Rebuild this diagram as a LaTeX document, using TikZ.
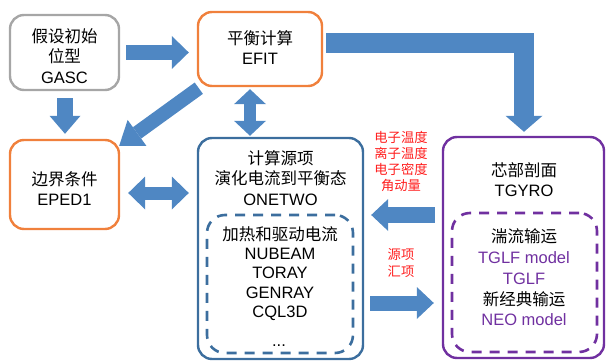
\documentclass[tikz,border=0pt]{standalone}
\usepackage{fontspec}
\setmainfont{Liberation Sans}
\newfontfamily\cjk{Noto Sans CJK SC}
\usetikzlibrary{arrows.meta,calc}
\definecolor{arrowblue}{RGB}{79,135,195}
\definecolor{boxgray}{RGB}{166,166,166}
\definecolor{boxorange}{RGB}{240,128,60}
\definecolor{boxblue}{RGB}{60,110,158}
\definecolor{boxpurple}{RGB}{112,48,160}
\definecolor{txtred}{RGB}{255,30,30}
\tikzset{
  box/.style={draw, line width=2.4pt, rounded corners=14pt, inner sep=0pt},
  dbox/.style={draw, line width=2.6pt, rounded corners=18pt, dash pattern=on 10pt off 8pt, inner sep=0pt},
  txt/.style={align=center, inner sep=0pt, font=\fontsize{16.5}{20.5}\selectfont},
  redtxt/.style={align=center, inner sep=0pt, text=txtred, font=\fontsize{13.3}{16.3}\selectfont\cjk},
  barrow/.style={draw=arrowblue, line width=#1}
}
\begin{document}
\begin{tikzpicture}[x=1pt,y=-1pt]
\useasboundingbox (0,0) rectangle (606,361);
% boxes
\node[box, draw=boxgray, minimum width=109pt, minimum height=75pt] (gasc) at (64.5,52.5) {};
\node[box, draw=boxorange, minimum width=124pt, minimum height=74pt] (efit) at (260,49) {};
\node[box, draw=boxorange, minimum width=109pt, minimum height=89pt] (eped) at (64.5,184.5) {};
\node[box, draw=boxblue, minimum width=165pt, minimum height=221pt] (onetwo) at (280.5,248.5) {};
\node[dbox, draw=boxblue, minimum width=146pt, minimum height=138pt] (heat) at (280,284) {};
\node[box, draw=boxpurple, minimum width=161pt, minimum height=221pt] (tgyro) at (523.5,247.5) {};
\node[dbox, draw=boxpurple, minimum width=145pt, minimum height=139pt] (trans) at (524.5,282.5) {};
% texts
\node[txt] (tgasc) at (64.5,56) {{\cjk 假设初始}\\{\cjk 位型}\\GASC};
\node[txt] (tefit) at (260,47.5) {{\cjk 平衡计算}\\EFIT};
\node[txt] (teped) at (64.5,188.5) {{\cjk 边界条件}\\EPED1};
\node[txt] (tone) at (280.5,178) {{\cjk 计算源项}\\{\cjk 演化电流到平衡态}\\ONETWO};
\node[txt, font=\fontsize{16.5}{19.3}\selectfont] (theat) at (280,273.5) {{\cjk 加热和驱动电流}\\NUBEAM\\TORAY\\GENRAY\\CQL3D};
\node[txt] (tdots) at (279,346) {...};
\node[txt] (ttgyro) at (524,179.5) {{\cjk 芯部剖面}\\TGYRO};
\node[txt, font=\fontsize{16.5}{20.8}\selectfont] (ttrans) at (524,277.5) {{\cjk 湍流输运}\\\textcolor{boxpurple}{TGLF model}\\\textcolor{boxpurple}{TGLF}\\{\cjk 新经典输运}\\\textcolor{boxpurple}{NEO model}};
\node[redtxt] (tprof) at (401,161.5) {电子温度\\离子温度\\电子密度\\角动量};
\node[redtxt] (tsrc) at (401,263) {源项\\汇项};
% coordinates for arrow ends
\coordinate (a1s) at ($(gasc.east)+(6,0)$);
\coordinate (a1e) at ($(gasc.east -| efit.west)+(-8,0)$);
\coordinate (a2s) at ($(gasc.south)+(0.5,7)$);
\coordinate (a2e) at ($(eped.north)+(0.5,-5)$);
\coordinate (a3s) at ($(efit.south west)+(2,1)$);
\coordinate (a3e) at ($(eped.north east)+(-1,7)$);
\coordinate (a4s) at ($(efit.south)+(-10,2)$);
\coordinate (a4e) at ($(efit.south |- onetwo.north)+(-10,-1)$);
\coordinate (a5s) at ($(eped.east)+(8,8.5)$);
\coordinate (a5e) at ($(eped.east -| onetwo.west)+(-8,8.5)$);
\coordinate (a6s) at ($(efit.east)+(3,-6)$);
\coordinate (a6e) at ($(tgyro.north)+(0.5,-4)$);
\coordinate (a7s) at ($(tgyro.west)+(-7,-32.5)$);
\coordinate (a7e) at ($(tgyro.west -| onetwo.east)+(7,-32.5)$);
\coordinate (a8s) at ($(onetwo.east)+(6,54.5)$);
\coordinate (a8e) at ($(tgyro.west)+(-8,55.5)$);
% block arrows
\draw[barrow=15pt, -{Triangle[width=33pt,length=17pt,line width=0pt,fill=arrowblue]}] (a1s) -- (a1e);
\draw[barrow=16pt, -{Triangle[width=31pt,length=18pt,line width=0pt,fill=arrowblue]}] (a2s) -- (a2e);
\draw[barrow=14pt, -{Triangle[width=32pt,length=22pt,line width=0pt,fill=arrowblue]}] (a3s) -- (a3e);
\draw[barrow=12pt, {Triangle[width=32pt,length=15pt,line width=0pt,fill=arrowblue]}-{Triangle[width=32pt,length=15pt,line width=0pt,fill=arrowblue]}] (a4s) -- (a4e);
\draw[barrow=13pt, {Triangle[width=33pt,length=17pt,line width=0pt,fill=arrowblue]}-{Triangle[width=33pt,length=17pt,line width=0pt,fill=arrowblue]}] (a5s) -- (a5e);
\draw[barrow=20pt, line join=miter, -{Triangle[width=37pt,length=16pt,line width=0pt,fill=arrowblue]}] (a6s) -| (a6e);
\draw[barrow=16pt, -{Triangle[width=32pt,length=17pt,line width=0pt,fill=arrowblue]}] (a7s) -- (a7e);
\draw[barrow=15pt, -{Triangle[width=32pt,length=17pt,line width=0pt,fill=arrowblue]}] (a8s) -- (a8e);
\end{tikzpicture}
\end{document}
